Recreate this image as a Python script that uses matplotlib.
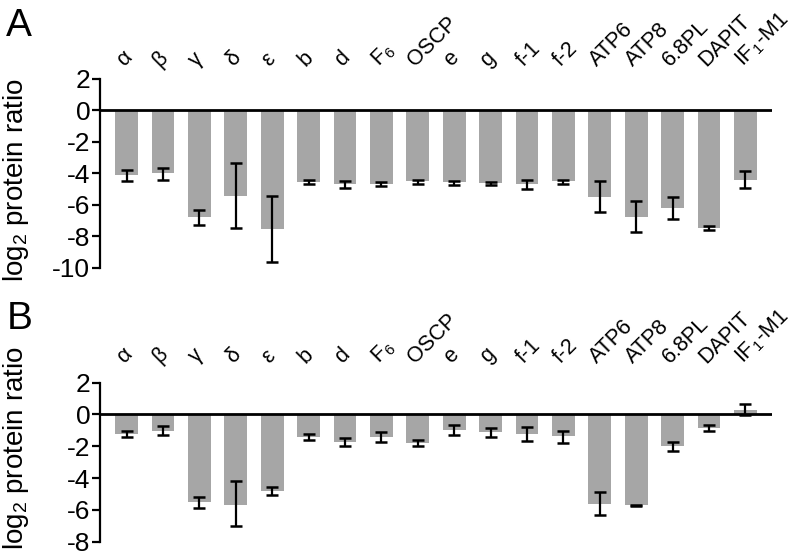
import matplotlib
matplotlib.use("Agg")
import matplotlib.pyplot as plt
import numpy as np

plt.rcParams['font.family'] = ['Liberation Sans', 'DejaVu Sans']
plt.rcParams['mathtext.fontset'] = 'custom'
plt.rcParams['mathtext.rm'] = 'Liberation Sans'

# subunit names (shown rotated above the bars)
subunits = ['α', 'β', 'γ', 'δ', 'ε', 'b', 'd', r'F$\mathregular{_6}$', 'OSCP',
            'e', 'g', 'f-1', 'f-2', 'ATP6', 'ATP8', '6.8PL', 'DAPIT',
            r'IF$\mathregular{_1}$-M1']

# panel A: log2 ratio, error bar lower/upper bounds
ratio_a = [-4.1, -4.0, -6.78, -5.4, -7.53, -4.54, -4.69, -4.69, -4.5,
           -4.56, -4.63, -4.69, -4.5, -5.5, -6.74, -6.19, -7.47, -4.39]
low_a = [-4.5, -4.43, -7.27, -7.49, -9.63, -4.65, -4.9, -4.82, -4.67,
         -4.75, -4.75, -5.01, -4.65, -6.46, -7.7, -6.89, -7.62, -4.92]
high_a = [-3.75, -3.64, -6.29, -3.32, -5.46, -4.43, -4.47, -4.54, -4.39,
          -4.45, -4.52, -4.43, -4.39, -4.5, -5.76, -5.5, -7.32, -3.83]

# panel B
ratio_b = [-1.21, -1.04, -5.51, -5.66, -4.82, -1.42, -1.74, -1.42, -1.78,
           -1.0, -1.11, -1.21, -1.36, -5.62, -5.72, -1.99, -0.86, 0.31]
low_b = [-1.42, -1.32, -5.87, -7.02, -5.05, -1.59, -1.99, -1.74, -2.01,
         -1.32, -1.42, -1.67, -1.78, -6.35, -5.75, -2.3, -1.04, -0.06]
high_b = [-1.04, -0.73, -5.2, -4.19, -4.57, -1.21, -1.47, -1.07, -1.59,
          -0.69, -0.84, -0.79, -1.04, -4.88, -5.7, -1.74, -0.65, 0.67]

yticks_a = [2, 0, -2, -4, -6, -8, -10]
yticks_b = [2, 0, -2, -4, -6, -8]


def draw_panel(ax, ratio, low, high, yticks, label_pad):
    x = np.arange(len(subunits))
    ratio = np.array(ratio)
    err = [ratio - np.array(low), np.array(high) - ratio]
    ax.bar(x, ratio, width=0.63, color='#a6a6a6', zorder=1)
    ax.errorbar(x, ratio, yerr=err, fmt='none', ecolor='black',
                elinewidth=1.6, capsize=4.5, capthick=1.8, zorder=3,
                clip_on=False)
    ax.axhline(0, color='black', lw=2.0, zorder=2)

    ax.set_xlim(-0.73, len(subunits) - 0.27)
    ax.set_ylim(min(yticks), max(yticks))
    ax.set_yticks(yticks)
    ax.set_yticklabels([str(t) for t in yticks])
    ax.tick_params(axis='y', length=6, width=1.6, labelsize=19, pad=1)
    ax.set_xticks([])
    for s in ['top', 'right', 'bottom']:
        ax.spines[s].set_visible(False)
    ax.spines['left'].set_linewidth(1.6)

    # rotated subunit names above each bar
    for i, name in enumerate(subunits):
        ax.text(i, 1, name, transform=ax.get_xaxis_transform(),
                rotation=45, rotation_mode='anchor', ha='left',
                va='baseline', fontsize=15.5)


fig = plt.figure(figsize=(7.93, 5.56), dpi=100)

ax_a = fig.add_axes([0.1261, 0.518, 0.8474, 0.340])
draw_panel(ax_a, ratio_a, low_a, high_a, yticks_a, 8.5)

ax_b = fig.add_axes([0.1261, 0.0257, 0.8474, 0.286])
draw_panel(ax_b, ratio_b, low_b, high_b, yticks_b, 13.5)

# shift labels up a little (A: ~12 px, B: ~18 px above the axes)
from matplotlib.transforms import offset_copy
for ax, dy in [(ax_a, 8.5), (ax_b, 13.5)]:
    for t in ax.texts:
        t.set_transform(offset_copy(ax.get_xaxis_transform(), fig=fig,
                                    x=-2, y=dy, units='points'))

fig.text(0.008, 0.985, 'A', fontsize=28, ha='left', va='top')
fig.text(0.008, 0.459, 'B', fontsize=28, ha='left', va='top')

fig.text(0.020, 1 - 180 / 556, r'log$\mathregular{_2}$ protein ratio',
         rotation=90, ha='center', va='center', fontsize=20)
fig.text(0.020, 1 - 448 / 556, r'log$\mathregular{_2}$ protein ratio',
         rotation=90, ha='center', va='center', fontsize=20)

fig.savefig('out.png', dpi=100)
